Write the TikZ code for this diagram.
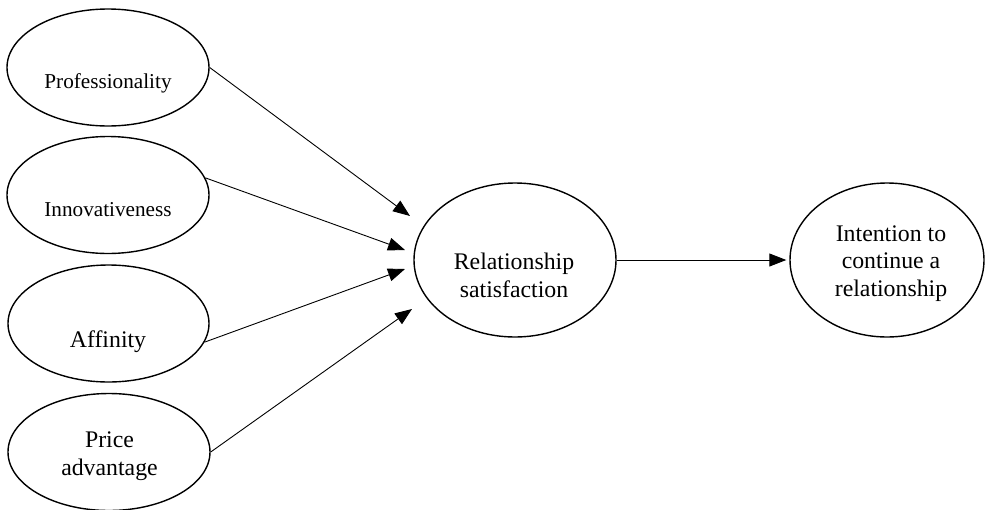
\documentclass[tikz,border=0pt]{standalone}
\usepackage{fontspec}
\setmainfont{Liberation Serif}
\usetikzlibrary{shapes.geometric,arrows.meta,calc}
\begin{document}
\begin{tikzpicture}[x=1pt,y=-1pt,
  oval/.style={draw, ellipse, line width=1.4pt, inner sep=0pt},
  small/.style={font=\fontsize{21.2}{25}\selectfont},
  big/.style={font=\fontsize{23.8}{27.4}\selectfont, align=center},
  link/.style={line width=0.9pt, -{Triangle[length=17pt,width=13pt]}}]
\useasboundingbox (0,0) rectangle (985,509);
% ellipses
\node[oval, minimum width=202pt, minimum height=117pt] (prof)  at (108,67.5) {};
\node[oval, minimum width=202pt, minimum height=117pt] (innov) at (108,195) {};
\node[oval, minimum width=201pt, minimum height=117pt] (aff)   at (108.5,323.5) {};
\node[oval, minimum width=202pt, minimum height=117pt] (price) at (109,452) {};
\node[oval, minimum width=202pt, minimum height=154pt] (rel)   at (515,260) {};
\node[oval, minimum width=194pt, minimum height=154pt] (int)   at (887,260) {};
% texts
\node[small, anchor=base] (profT)  at (108,88)  {Professionality};
\node[small, anchor=base] (innovT) at (108,216) {Innovativeness};
\node[big,   anchor=base] (affT)   at (108,347) {Affinity};
\node[big] (priceT) at (109.5,456) {Price\\advantage};
\node[big] (relT)   at (514,275.4) {Relationship\\satisfaction};
\node[big] (intT)   at (891,263.4) {Intention to\\continue a\\relationship};
% arrow tips
\coordinate (t1) at (410,216);
\coordinate (t2) at (405,250);
\coordinate (t3) at (405,269);
\coordinate (t4) at (412,309);
% connectors
\draw[link] (prof.east) -- (t1);
\draw[link] (innov.10) -- (t2);
\draw[link] (aff.-11) -- (t3);
\draw[link] (price.east) -- (t4);
\draw[link, shorten >=3pt] (rel.east) -- (int.west);
\end{tikzpicture}
\end{document}
